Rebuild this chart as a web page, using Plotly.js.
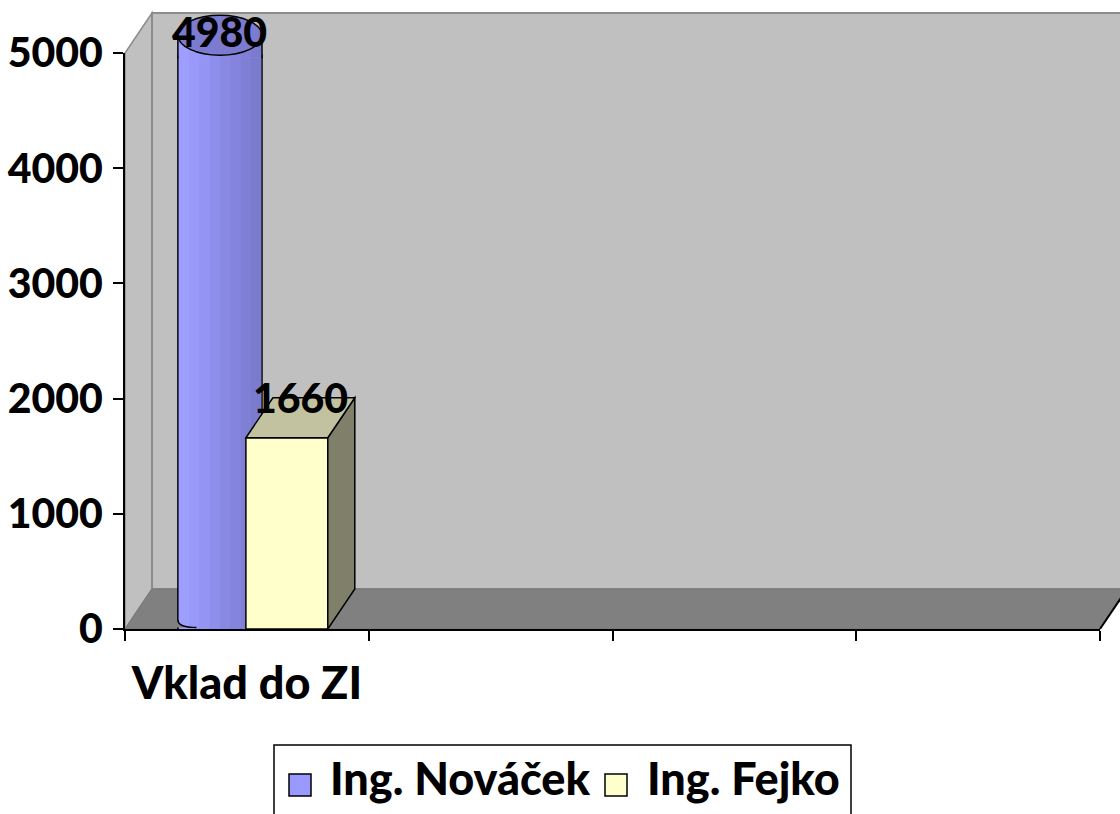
<!DOCTYPE html>
<html>
<head>
<meta charset="utf-8">
<script src="https://cdn.plot.ly/plotly-3.0.1.min.js"></script>
<style>html,body{margin:0;padding:0;background:#fff;}#chart{width:1120px;height:814px;}</style>
</head>
<body>
<div id="chart"></div>
<script>
// ---- data ----
var categories = ["Vklad do ZI"];
var seriesNames = ["Ing. Nováček", "Ing. Fejko"];
var novacekValues = [4980];
var fejkoValues = [1660];
var yTicks = [0, 1000, 2000, 3000, 4000, 5000];

// ---- geometry / style ----
var W = 1120, H = 814;
var M = {l: 125, r: 20, t: 53, b: 185, autoexpand: false};
var plotW = W - M.l - M.r, plotH = H - M.t - M.b;
var nSlots = 4;                                // category slots along the floor
var yMax = 5000;
var slotPx = plotW / nSlots;
var depthX = 27, depthY = 40;                  // pixel depth of the 3D floor/walls
var dxp = depthX / plotW, dyp = depthY / plotH;
var dxu = depthX / slotPx;
var dyu = depthY * yMax / plotH;
var numFont = {family: "Lato, 'Open Sans', sans-serif", size: 41, color: "#000", weight: 900};
var txtFont = {family: "Lato, 'Open Sans', sans-serif", size: 45, color: "#000", weight: 900};
var xPos = categories.map(function (c, i) { return i; });
var boundaries = [];
for (var b = 0; b <= nSlots; b++) boundaries.push(b - 0.5);

var cyl = {offset: -0.283, width: 0.345, color: "#9999FF"};
var box = {offset: -0.004, width: 0.336, color: "#FFFFCC"};
var stripColors = ["#9E9EFF", "#9999FA", "#9494F4", "#8E8EEC", "#8989E4", "#8484DD", "#7F7FD6", "#7A7ACF"];

function yp(v) { return v / yMax; }
function pxX(px) { return (px - M.l) / plotW; }
function pxY(py) { return (H - M.b - py) / plotH; }
var onePxX = 1 / slotPx;

var traces = [];
traces.push({
  type: "bar", name: seriesNames[0], x: xPos, y: novacekValues,
  offset: cyl.offset, width: cyl.width, showlegend: false,
  marker: {color: cyl.color, line: {color: "#000", width: 1.5}},
  hoverinfo: "y+name"
});
var innerW = cyl.width - 2 * onePxX;
var sw = innerW / stripColors.length;
stripColors.forEach(function (c, i) {
  traces.push({
    type: "bar", x: xPos, y: novacekValues, showlegend: false, hoverinfo: "skip",
    offset: cyl.offset + onePxX + i * sw, width: sw + 0.001,
    marker: {color: c, line: {width: 0}}
  });
});
traces.push({
  type: "bar", name: seriesNames[1], x: xPos, y: fejkoValues,
  offset: box.offset, width: box.width, showlegend: false,
  marker: {color: box.color, line: {color: "#000", width: 1.5}},
  hoverinfo: "y+name"
});

var shapes = [
  {type: "path", xref: "paper", yref: "paper", layer: "below",
   path: "M0,0 L" + dxp + "," + dyp + " L" + dxp + "," + (1 + dyp) + " L0,1 Z",
   fillcolor: "#C0C0C0", line: {color: "#8C8C8C", width: 1.5}},
  {type: "rect", xref: "paper", yref: "paper", layer: "below",
   x0: dxp, x1: 1 + dxp, y0: dyp, y1: 1 + dyp,
   fillcolor: "#C0C0C0", line: {color: "#8C8C8C", width: 2}},
  {type: "path", xref: "paper", yref: "paper", layer: "below",
   path: "M0,0 L1,0 L" + (1 + dxp) + "," + dyp + " L" + dxp + "," + dyp + " Z",
   fillcolor: "#808080", line: {color: "#767676", width: 1}},
  {type: "line", xref: "paper", yref: "paper", layer: "below",
   x0: 1, y0: 0, x1: 1 + dxp, y1: dyp, line: {color: "#000", width: 2}}
];

// cylinder: upper band, sides, top ellipse, rounded bottom-left corner
var cv = novacekValues[0];
var cx0 = cyl.offset, cx1 = cyl.offset + cyl.width;
var bandLow = yp(cv) - 2 / plotH, bandHigh = yp(cv + dyu / 2);
shapes.push({type: "rect", xref: "x", yref: "paper", x0: cx0, x1: cx1, y0: bandLow, y1: bandHigh,
  fillcolor: cyl.color, line: {width: 0}});
stripColors.forEach(function (c, i) {
  shapes.push({type: "rect", xref: "x", yref: "paper",
    x0: cx0 + onePxX + i * sw, x1: cx0 + onePxX + (i + 1) * sw + 0.001, y0: bandLow, y1: bandHigh,
    fillcolor: c, line: {width: 0}});
});
shapes.push({type: "path", xref: "x", yref: "paper",
  path: "M" + cx0 + "," + (bandLow - 1 / plotH) + " L" + cx0 + "," + bandHigh +
        " M" + cx1 + "," + (bandLow - 1 / plotH) + " L" + cx1 + "," + bandHigh,
  line: {color: "#000", width: 1.5}});
shapes.push({type: "circle", xref: "x", yref: "paper",
  x0: cx0, x1: cx1, y0: yp(cv), y1: yp(cv + dyu),
  fillcolor: "#7B7BCF", line: {color: "#000", width: 1.5}});
var hp = 9 / plotH, g = 1.5 / plotH, cw = cyl.width * 0.22;
shapes.push({type: "path", xref: "x", yref: "paper",
  path: "M" + (cx0 - 2 * onePxX) + "," + g + " L" + (cx0 - 2 * onePxX) + "," + hp + " L" + cx0 + "," + hp +
        " Q" + cx0 + "," + g + " " + (cx0 + cw) + "," + g + " Z",
  fillcolor: "#808080", line: {width: 0}});
shapes.push({type: "path", xref: "x", yref: "paper",
  path: "M" + cx0 + "," + hp + " Q" + cx0 + "," + g + " " + (cx0 + cw) + "," + g,
  line: {color: "#000", width: 1.5}});

// box side and top faces
var bv = fejkoValues[0];
var bx0 = box.offset, bx1 = box.offset + box.width;
shapes.push({type: "path", xref: "x", yref: "y",
  path: "M" + bx1 + ",0 L" + (bx1 + dxu) + "," + dyu + " L" + (bx1 + dxu) + "," + (bv + dyu) + " L" + bx1 + "," + bv + " Z",
  fillcolor: "#80806A", line: {color: "#000", width: 1.5}});
shapes.push({type: "path", xref: "x", yref: "y",
  path: "M" + bx0 + "," + bv + " L" + bx1 + "," + bv + " L" + (bx1 + dxu) + "," + (bv + dyu) + " L" + (bx0 + dxu) + "," + (bv + dyu) + " Z",
  fillcolor: "#C2C2A0", line: {color: "#000", width: 1.5}});

// custom legend (bigger swatches like the reference)
var legendColors = [cyl.color, box.color];
var legendSwatchX = [289, 605], legendTextX = [328, 645];
shapes.push({type: "rect", xref: "paper", yref: "paper", x0: pxX(274), x1: pxX(851), y0: pxY(745), y1: pxY(830),
  fillcolor: "#FFFFFF", line: {color: "#000", width: 1.5}});
legendColors.forEach(function (c, i) {
  shapes.push({type: "rect", xref: "paper", yref: "paper",
    x0: pxX(legendSwatchX[i]), x1: pxX(legendSwatchX[i] + 22), y0: pxY(774), y1: pxY(796),
    fillcolor: c, line: {color: "#000", width: 1.5}});
});

var labelMax = pxY(31);
var annotations = [
  {xref: "x", yref: "paper", x: cyl.offset + cyl.width / 2, y: Math.min(yp(cv + dyu), labelMax),
   text: String(cv), showarrow: false, font: numFont, xanchor: "center", yanchor: "middle"},
  {xref: "x", yref: "paper", x: box.offset + box.width / 2 + dxu / 2, y: Math.min(yp(bv + dyu), labelMax),
   text: String(bv), showarrow: false, font: numFont, xanchor: "center", yanchor: "middle"}
];
seriesNames.forEach(function (n, i) {
  annotations.push({xref: "paper", yref: "paper", x: pxX(legendTextX[i]), y: pxY(778),
    text: n, showarrow: false, font: txtFont, xanchor: "left", yanchor: "middle"});
});

var layout = {
  width: W, height: H,
  margin: M,
  paper_bgcolor: "#FFFFFF",
  plot_bgcolor: "rgba(0,0,0,0)",
  barmode: "overlay",
  showlegend: false,
  font: txtFont,
  xaxis: {
    range: [-0.5, nSlots - 0.5],
    tickmode: "array", tickvals: xPos, ticktext: categories,
    ticks: "outside", ticklen: 10, tickwidth: 2, tickcolor: "rgba(0,0,0,0)",
    minor: {tickmode: "array", tickvals: boundaries, ticks: "outside", ticklen: 10, tickwidth: 2, tickcolor: "#000", showgrid: false},
    showline: true, linecolor: "#000", linewidth: 2,
    showgrid: false, zeroline: false, fixedrange: true,
    tickfont: txtFont, ticklabelstandoff: 4
  },
  yaxis: {
    range: [0, yMax], tickmode: "array", tickvals: yTicks, ticktext: yTicks.map(String),
    ticks: "outside", ticklen: 10, tickwidth: 2, tickcolor: "#000",
    showline: true, linecolor: "#000", linewidth: 2,
    showgrid: false, zeroline: false, fixedrange: true,
    tickfont: numFont, ticklabelstandoff: 2
  },
  shapes: shapes,
  annotations: annotations
};

Plotly.newPlot("chart", traces, layout, {displayModeBar: false, staticPlot: true});
</script>
</body>
</html>
